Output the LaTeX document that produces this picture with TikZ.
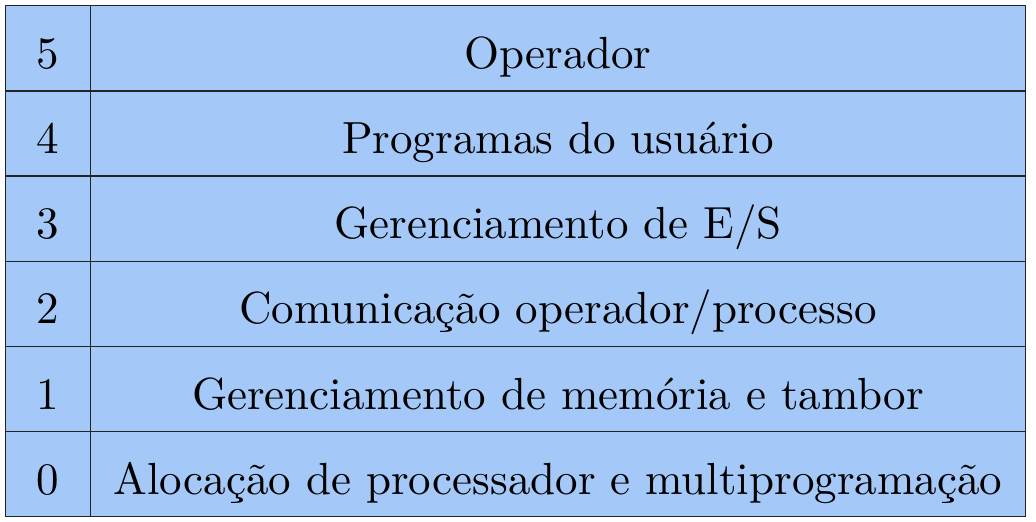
\documentclass[tikz,border=0pt]{standalone}
\definecolor{cellblue}{RGB}{164,201,249}
\definecolor{gridline}{RGB}{35,35,40}
\begin{document}
\begin{tikzpicture}[x=1pt,y=-1pt,
  cell/.style={draw=gridline,line width=1.4pt,fill=cellblue,inner sep=0pt,anchor=north west},
  celltext/.style={font=\fontsize{10}{12}\selectfont,inner sep=0pt,anchor=base,scale=4.5}]
\useasboundingbox (0,0) rectangle (1036,522);
\def\rowh{85.17}
\foreach \n/\t [count=\i from 0] in {5/{Operador},4/{Programas do usuário},3/{Gerenciamento de E/S},2/{Comunicação operador/processo},1/{Gerenciamento de memória e tambor},0/{Alocação de processador e multiprogramação}}{
  \node[cell,minimum width=85pt,minimum height=\rowh pt] (num\i) at (4.5,{5+\i*\rowh}) {};
  \node[cell,minimum width=935.5pt,minimum height=\rowh pt] (lab\i) at (89.5,{5+\i*\rowh}) {};
  \node[celltext] (numt\i) at ([yshift=-20.1pt]num\i.center) {\n};
  \node[celltext] (labt\i) at ([yshift=-20.1pt]lab\i.center) {\t};
}
\end{tikzpicture}
\end{document}
